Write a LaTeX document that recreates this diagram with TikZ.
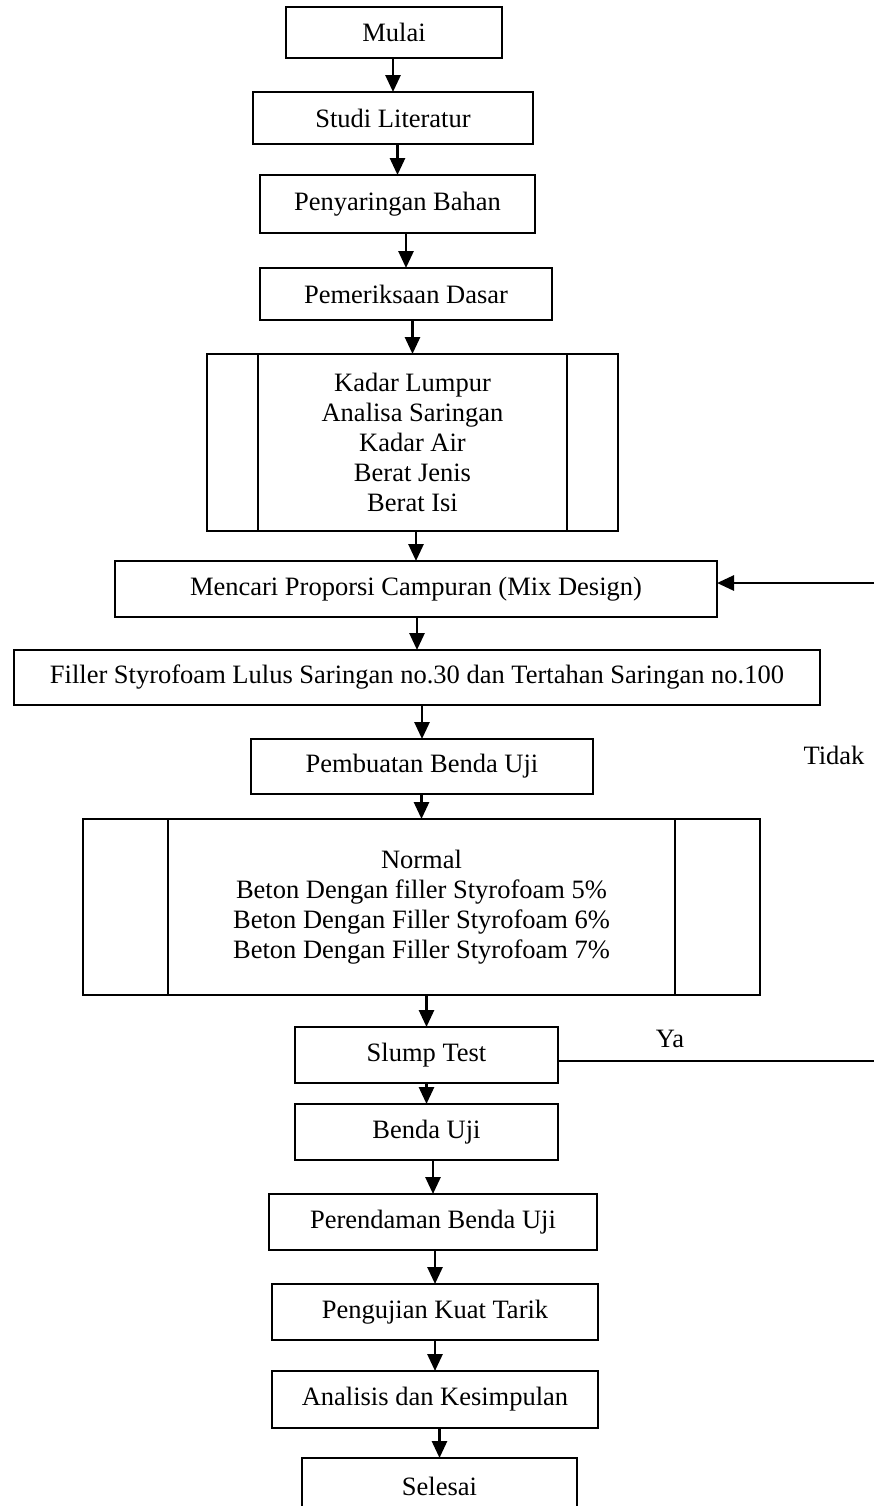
\documentclass[tikz,border=0pt]{standalone}
\usepackage{fontspec}
\setmainfont{Liberation Serif}
\usetikzlibrary{arrows.meta, calc}

\begin{document}
\begin{tikzpicture}[x=0.5pt, y=-0.5pt, font=\fontsize{13.25}{15}\selectfont,
    proc/.style={draw, line width=1.4pt, inner sep=0pt, outer sep=0pt, align=center},
    dims/.style 2 args={minimum width=#1*0.5pt, minimum height=#2*0.5pt},
    flow/.style={line width=1.4pt, -{Triangle[length=8.5pt, width=7.5pt]}}]

    % Page size
    \useasboundingbox (0,0) rectangle (874,1506);

    % Define parameters
    \def\sideA{51}  % inner margin of the first sub-process box
    \def\sideB{85}  % inner margin of the second sub-process box

    % Boxes of the flow
    \node[proc, dims={216}{51}] (mulai) at (394,32.5) {Mulai};
    \node[proc, dims={280}{52}] (studi) at (393,118) {Studi Literatur};
    \node[proc, dims={275}{58}] (saring) at (397.5,204) {Penyaringan Bahan};
    \node[proc, dims={292}{52}] (periksa) at (406,294) {Pemeriksaan Dasar};
    \node[proc, dims={411}{177}] (lab) at (412.5,442.5)
        {Kadar Lumpur\\Analisa Saringan\\Kadar Air\\Berat Jenis\\Berat Isi};
    \node[proc, dims={602}{56}] (mix) at (416,589) {Mencari Proporsi Campuran (Mix Design)};
    \node[proc, dims={806}{55}] (filler) at (417,677.5)
        {Filler Styrofoam Lulus Saringan no.30 dan Tertahan Saringan no.100};
    \node[proc, dims={342}{55}] (buat) at (422,766.5) {Pembuatan Benda Uji};
    \node[proc, dims={677}{176}] (varian) at (421.5,907)
        {Normal\\Beton Dengan filler Styrofoam 5\%\\Beton Dengan Filler Styrofoam 6\%\\Beton Dengan Filler Styrofoam 7\%};
    \node[proc, dims={263}{56}] (slump) at (426.5,1055) {Slump Test};
    \node[proc, dims={263}{56}] (benda) at (426.5,1132) {Benda Uji};
    \node[proc, dims={328}{56}] (rendam) at (433,1222) {Perendaman Benda Uji};
    \node[proc, dims={326}{56}] (tarik) at (435,1312) {Pengujian Kuat Tarik};
    \node[proc, dims={326}{57}] (analisis) at (435,1399.5) {Analisis dan Kesimpulan};
    \node[proc, dims={275}{56}] (selesai) at (439.5,1486) {Selesai};

    % Side bars of the sub-process boxes
    \draw[line width=1.4pt] ($(lab.north west)+(\sideA,0)$) -- ($(lab.south west)+(\sideA,0)$);
    \draw[line width=1.4pt] ($(lab.north east)-(\sideA,0)$) -- ($(lab.south east)-(\sideA,0)$);
    \draw[line width=1.4pt] ($(varian.north west)+(\sideB,0)$) -- ($(varian.south west)+(\sideB,0)$);
    \draw[line width=1.4pt] ($(varian.north east)-(\sideB,0)$) -- ($(varian.south east)-(\sideB,0)$);

    % Arrows down the flow
    \foreach \a/\b in {mulai/studi, studi/saring, saring/periksa, periksa/lab, lab/mix,
                       mix/filler, filler/buat, buat/varian, varian/slump, slump/benda,
                       benda/rendam, rendam/tarik, tarik/analisis, analisis/selesai}
        \draw[flow] (\b.north |- \a.south) -- (\b.north);

    % Loop back from the slump test
    \coordinate (ya) at (874,1061);
    \coordinate (tidak) at (874,583);
    \draw[line width=0.9pt] (slump.east |- ya) -- (ya);
    \draw[flow] (tidak) -- (tidak -| mix.east);

    % Labels of the two branches
    \node (lblya) at (670,1039) {Ya};
    \node (lbltidak) at (834,755) {Tidak};
\end{tikzpicture}
\end{document}
